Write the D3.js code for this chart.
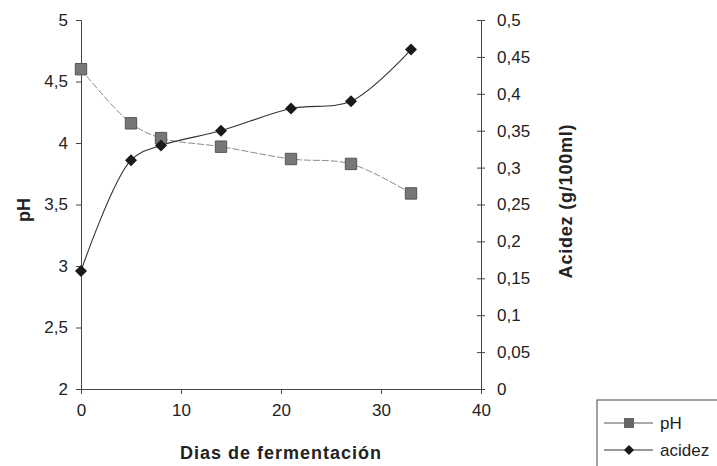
<!DOCTYPE html>
<html>
<head>
<meta charset="utf-8">
<script src="https://cdn.jsdelivr.net/npm/d3@7"></script>
<style>
  body { margin: 0; background: #fff; }
  text { font-family: "Liberation Sans", Arial, sans-serif; fill: #222; }
</style>
</head>
<body>
<div id="chart"></div>
<script>
// data
const dias = [0, 5, 8, 14, 21, 27, 33];
const ph = [4.6, 4.16, 4.04, 3.97, 3.87, 3.83, 3.59];
const acidez = [0.16, 0.31, 0.33, 0.35, 0.38, 0.39, 0.46];

const xTicks = [0, 10, 20, 30, 40];
const phTicks = [2, 2.5, 3, 3.5, 4, 4.5, 5];
const acTicks = [0, 0.05, 0.1, 0.15, 0.2, 0.25, 0.3, 0.35, 0.4, 0.45, 0.5];

const width = 717, height = 466;
const margin = { top: 20, left: 81, right: 236, bottom: 77 };

const svg = d3.select("#chart").append("svg")
  .attr("width", width)
  .attr("height", height);

const x = d3.scaleLinear().domain([0, 40]).range([margin.left, width - margin.right]);
const yPh = d3.scaleLinear().domain([2, 5]).range([height - margin.bottom, margin.top]);
const yAc = d3.scaleLinear().domain([0, 0.5]).range([height - margin.bottom, margin.top]);

const fmt = d => String(d).replace(".", ",");

// axes
const xAxis = svg.append("g")
  .attr("transform", `translate(0,${height - margin.bottom})`)
  .call(d3.axisBottom(x).tickValues(xTicks).tickFormat(fmt).tickSize(5).tickPadding(10));

const leftAxis = svg.append("g")
  .attr("transform", `translate(${margin.left},0)`)
  .call(d3.axisLeft(yPh).tickValues(phTicks).tickFormat(fmt).tickSize(5).tickPadding(8));

const rightAxis = svg.append("g")
  .attr("transform", `translate(${width - margin.right},0)`)
  .call(d3.axisRight(yAc).tickValues(acTicks).tickFormat(fmt).tickSize(4).tickPadding(12));

// right ticks cross the axis line
rightAxis.selectAll(".tick line").attr("x1", -4);

[xAxis, leftAxis, rightAxis].forEach(g => {
  g.select(".domain").attr("stroke", "#444");
  g.selectAll(".tick line").attr("stroke", "#444");
  g.selectAll(".tick text")
    .style("font-size", "17px")
    .style("fill", "#222")
    .style("font-family", "'Liberation Sans', Arial, sans-serif");
});

// axis titles
svg.append("text")
  .attr("x", (x(0) + x(40)) / 2)
  .attr("y", 459)
  .attr("text-anchor", "middle")
  .style("font-size", "18px")
  .style("letter-spacing", "1px")
  .style("font-weight", "bold")
  .text("Dias de fermentación");

svg.append("text")
  .attr("transform", `translate(30,210) rotate(-90)`)
  .attr("text-anchor", "middle")
  .style("font-size", "18px")
  .style("font-weight", "bold")
  .text("pH");

svg.append("text")
  .attr("transform", `translate(572,201) rotate(-90)`)
  .attr("text-anchor", "middle")
  .style("font-size", "18px")
  .style("letter-spacing", "0.8px")
  .style("font-weight", "bold")
  .text("Acidez (g/100ml)");

// lines
const phLine = d3.line()
  .x((d, i) => x(dias[i]))
  .y(d => yPh(d))
  .curve(d3.curveCatmullRom.alpha(0.5));

const acLine = d3.line()
  .x((d, i) => x(dias[i]))
  .y(d => yAc(d))
  .curve(d3.curveCatmullRom.alpha(0.5));

svg.append("path")
  .datum(ph)
  .attr("d", phLine)
  .attr("fill", "none")
  .attr("stroke", "#8c8c8c")
  .attr("stroke-width", 1)
  .attr("stroke-dasharray", "7,2");

svg.append("path")
  .datum(acidez)
  .attr("d", acLine)
  .attr("fill", "none")
  .attr("stroke", "#333")
  .attr("stroke-width", 1.1);

// markers
const square = d3.symbol().type(d3.symbolSquare).size(130);
const diamond = "M0,-6L6,0L0,6L-6,0Z";

svg.selectAll(".ph-pt")
  .data(ph)
  .join("path")
  .attr("class", "ph-pt")
  .attr("d", square)
  .attr("transform", (d, i) => `translate(${x(dias[i])},${yPh(d)})`)
  .attr("fill", "#777")
  .attr("stroke", "#555")
  .attr("stroke-width", 1);

svg.selectAll(".ac-pt")
  .data(acidez)
  .join("path")
  .attr("class", "ac-pt")
  .attr("d", diamond)
  .attr("transform", (d, i) => `translate(${x(dias[i])},${yAc(d)})`)
  .attr("fill", "#1a1a1a");

// legend
const legend = svg.append("g").attr("transform", "translate(597,400)");
legend.append("rect")
  .attr("x", 0).attr("y", 0)
  .attr("width", 140).attr("height", 80)
  .attr("fill", "none")
  .attr("stroke", "#444");

const legItems = [
  { name: "pH", y: 23, sym: d3.symbol().type(d3.symbolSquare).size(100), fill: "#666", stroke: "#555" },
  { name: "acidez", y: 50, sym: "M0,-5L5,0L0,5L-5,0Z", fill: "#1a1a1a", stroke: "#333" }
];

legItems.forEach(it => {
  legend.append("line")
    .attr("x1", 7).attr("x2", 56)
    .attr("y1", it.y).attr("y2", it.y)
    .attr("stroke", it.stroke);
  legend.append("path")
    .attr("d", it.sym)
    .attr("transform", `translate(32,${it.y})`)
    .attr("fill", it.fill);
  legend.append("text")
    .attr("x", 63).attr("y", it.y + 6)
    .style("font-size", "17px")
    .text(it.name);
});
</script>
</body>
</html>
